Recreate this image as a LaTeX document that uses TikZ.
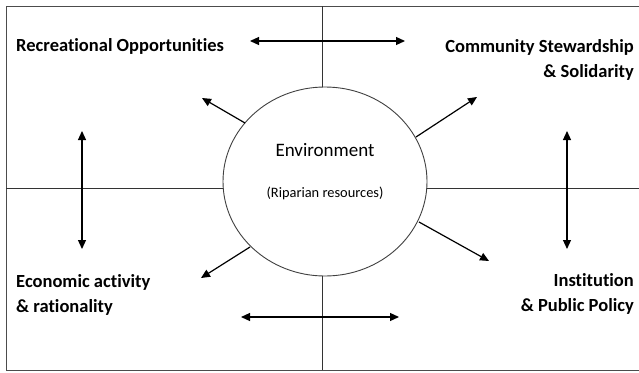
\documentclass[tikz,border=0pt]{standalone}
\usepackage{fontspec}
\setmainfont{Carlito}[Ligatures=NoCommon]
\usetikzlibrary{arrows.meta,shapes.geometric}
\begin{document}
\begin{tikzpicture}[x=1pt,y=-1pt,
  frame/.style={draw=black!70,line width=1pt},
  divider/.style={draw=black!80,line width=0.9pt},
  link/.style={draw=black,line width=1.2pt,-{Triangle[length=9pt,width=8pt]}},
  twoway/.style={draw=black,line width=1.2pt,{Triangle[length=9pt,width=8pt]}-{Triangle[length=9pt,width=8pt]}},
  label/.style={font=\fontsize{18.5}{25}\selectfont\bfseries,inner sep=0pt},
  lab left/.style={label,anchor=west,align=left},
  lab right/.style={label,anchor=east,align=right}]
\useasboundingbox (0,0) rectangle (639,372);
\fill[white] (0,0) rectangle (639,372);
% outer frame (runs past the right edge)
\draw[frame] (6,6) rectangle (660,370);
% central resource
\node[draw=black!75,line width=0.9pt,ellipse,minimum width=204pt,minimum height=189pt,inner sep=0pt] (env) at (325,181.5) {};
\node[font=\fontsize{19}{22}\selectfont,inner sep=0pt] (envt) at (325,150) {Environment};
\node[font=\fontsize{14.4}{17}\selectfont,inner sep=0pt] (rip) at (325,193) {(Riparian resources)};
% quadrant dividers
\coordinate (topmid) at (322,6);
\coordinate (botmid) at (322,370);
\coordinate (leftmid) at (6,188);
\coordinate (rightmid) at (639,188);
\draw[divider] (topmid) -- (322,87);
\draw[divider] (322,276) -- (botmid);
\draw[divider] (leftmid) -- (223,188);
\draw[divider] (427,188) -- (rightmid);
% quadrant labels
\node[lab left] (rec) at (16,46) {Recreational Opportunities};
\node[lab right] (com) at (634,59.5) {Community Stewardship\\\& Solidarity};
\node[lab left] (eco) at (16,294.5) {Economic activity\\\& rationality};
\node[lab right] (ins) at (634,293.5) {Institution\\\& Public Policy};
% two-way links between neighbouring quadrants
\coordinate (t1) at (250,41); \coordinate (t2) at (405,41);
\coordinate (b1) at (241,317); \coordinate (b2) at (399,317);
\coordinate (l1) at (82,131); \coordinate (l2) at (82,249);
\coordinate (r1) at (567,131); \coordinate (r2) at (567,249);
\draw[twoway] (t1) -- (t2);
\draw[twoway] (b1) -- (b2);
\draw[twoway] (l1) -- (l2);
\draw[twoway] (r1) -- (r2);
% links from the environment outward
\coordinate (dtl) at (202,98);
\coordinate (dtr) at (477,97);
\coordinate (dbl) at (201,278);
\coordinate (dbr) at (489,261);
\draw[link] (245,123) -- (dtl);
\draw[link] (416,137) -- (dtr);
\draw[link] (250,247) -- (dbl);
\draw[link] (419,222) -- (dbr);
\end{tikzpicture}
\end{document}
